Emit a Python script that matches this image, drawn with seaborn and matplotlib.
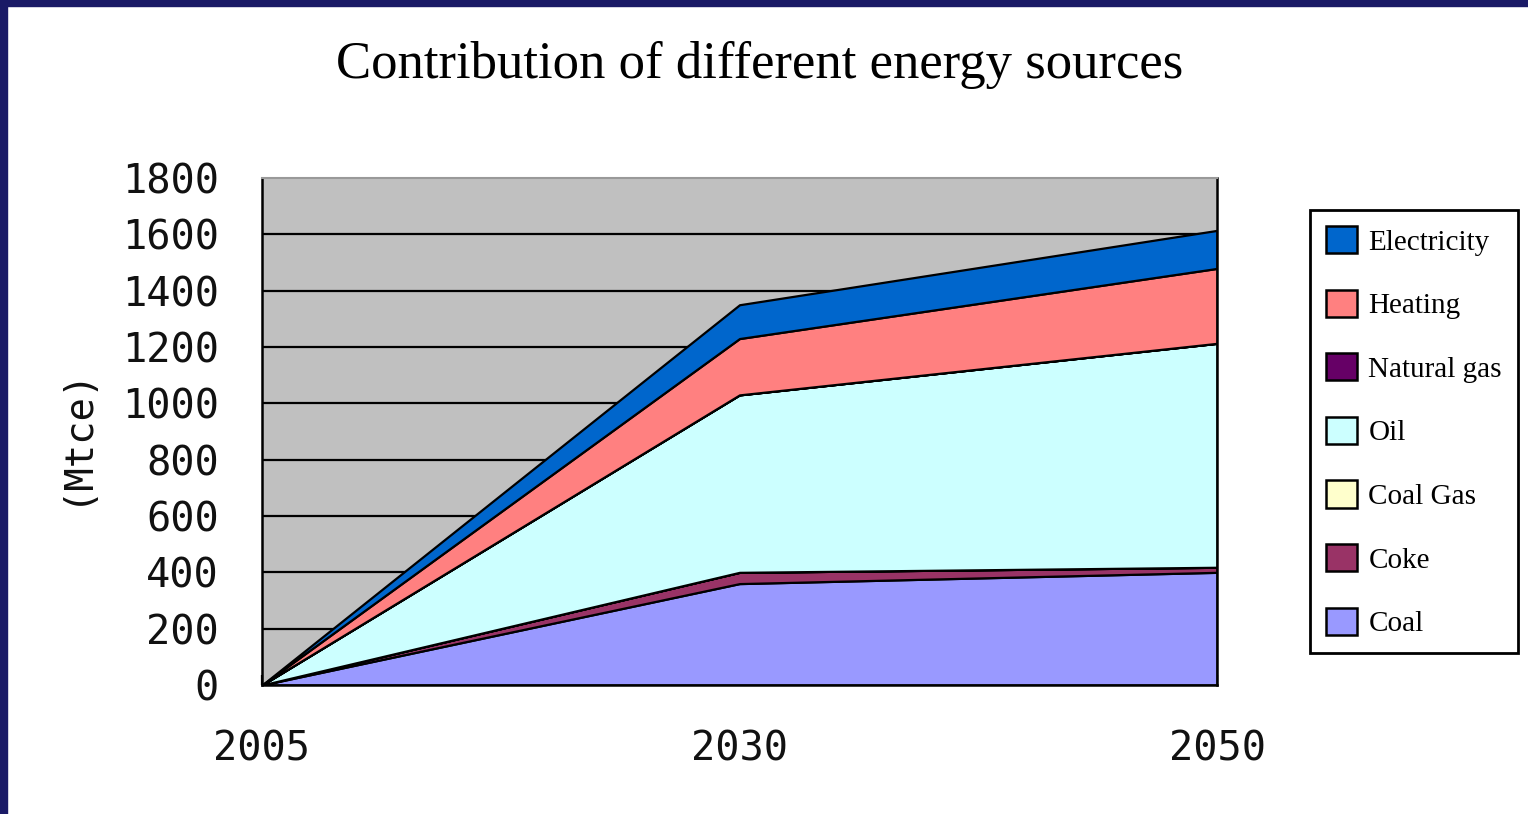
import matplotlib
matplotlib.use('Agg')
import matplotlib.pyplot as plt
from matplotlib.patches import Patch, Rectangle
import seaborn as sns

# Data (Mtce)
years = ['2005', '2030', '2050']
coal = [0, 360, 400]
coke = [0, 40, 18]
coal_gas = [0, 0, 0]
oil = [0, 630, 795]
natural_gas = [0, 0, 0]
heating = [0, 200, 266]
electricity = [0, 120, 135]

labels = ['Coal', 'Coke', 'Coal Gas', 'Oil', 'Natural gas', 'Heating', 'Electricity']
colors = ['#9999FF', '#993366', '#FFFFCC', '#CCFFFF', '#660066', '#FF8080', '#0066CC']

sns.set_theme(style="white")
plt.rcParams['text.color'] = 'black'
plt.rcParams['xtick.color'] = 'black'
plt.rcParams['ytick.color'] = 'black'

fig = plt.figure(figsize=(15.28, 8.14), dpi=100)
ax = fig.add_axes([262 / 1528, 1 - 685 / 814, (1217 - 262) / 1528, (685 - 178) / 814])
ax.set_facecolor('#C0C0C0')

x = list(range(len(years)))
ax.stackplot(x, coal, coke, coal_gas, oil, natural_gas, heating, electricity,
             colors=colors, edgecolor='black', linewidth=1.6, zorder=3)

ax.set_xlim(0, len(years) - 1)
ax.set_ylim(0, 1800)
ax.set_xticks(x)
ax.set_xticklabels(years)
ax.set_yticks(range(0, 1801, 200))

for yv in range(200, 1800, 200):
    ax.axhline(yv, color='black', lw=1.6, zorder=1)

mono = 'DejaVu Sans Mono'
ax.tick_params(axis='x', direction='in', length=7, width=1.6, color='black',
               pad=32, labelsize=29, bottom=True)
ax.tick_params(axis='y', length=0, pad=31, labelsize=29)
for lab in ax.get_xticklabels() + ax.get_yticklabels():
    lab.set_family(mono)
    lab.set_color('#111111')

for side in ['left', 'bottom', 'right']:
    ax.spines[side].set_color('black')
    ax.spines[side].set_linewidth(1.8)
ax.spines['top'].set_color('#999999')
ax.spines['top'].set_linewidth(1.5)
for s in ax.spines.values():
    s.set_zorder(5)

fig.text(75 / 1528, 1 - 435 / 814, '(Mtce)', rotation=90, family=mono,
         fontsize=28, ha='center', va='center', color='#111111')

fig.text(760 / 1528, 1 - 65 / 814, 'Contribution of different energy sources',
         family='Liberation Serif', fontsize=38, ha='center', va='center',
         color='black')

handles = [Patch(facecolor=c, edgecolor='black', linewidth=1.8) for c in colors][::-1]
leg = fig.legend(handles, labels[::-1], loc='upper left',
                 bbox_to_anchor=(1310 / 1528, 1 - 210 / 814),
                 prop={'family': 'Liberation Serif', 'size': 21},
                 frameon=True, fancybox=False, shadow=False,
                 handlelength=1.05, handleheight=1.05, handletextpad=0.4,
                 labelspacing=1.17, borderpad=0.55, borderaxespad=0)
leg.get_frame().set_edgecolor('black')
leg.get_frame().set_linewidth(2)
leg.get_frame().set_alpha(1)
for t in leg.get_texts():
    t.set_color('black')

# navy frame on the left and top edges
fig.patches.append(Rectangle((0, 0), 7 / 1528, 1, transform=fig.transFigure,
                             color='#1A1A66', zorder=10))
fig.patches.append(Rectangle((0, 1 - 6 / 814), 1, 6 / 814, transform=fig.transFigure,
                             color='#1A1A66', zorder=10))

fig.savefig('out.png', dpi=100)
